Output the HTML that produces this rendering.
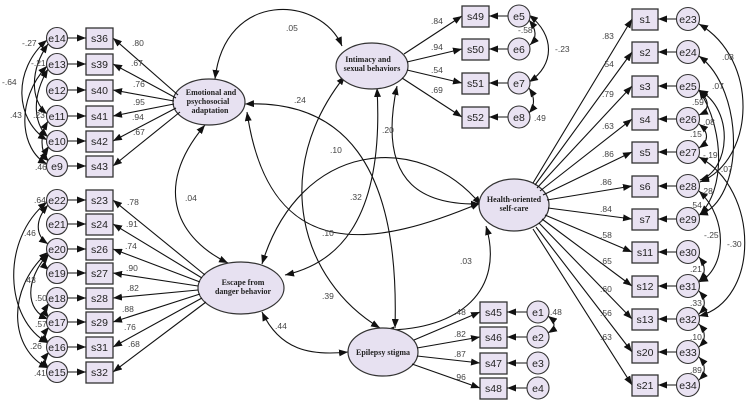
<!DOCTYPE html>
<html><head><meta charset="utf-8"><style>
html,body{margin:0;padding:0;background:#fff}
svg{display:block}
.n{font-family:"Liberation Sans",sans-serif;font-size:8.5px;fill:#444}
.b{font-family:"Liberation Sans",sans-serif;font-size:10.5px;fill:#222;text-anchor:middle}
.l{font-family:"Liberation Serif",serif;font-size:8px;font-weight:bold;fill:#222;text-anchor:middle}
rect{fill:#e9e2f2;stroke:#333;stroke-width:1.3}
circle{fill:#e9e2f2;stroke:#333;stroke-width:1.1}
ellipse{fill:#e7e1f1;stroke:#333;stroke-width:1.2}
.a{stroke:#111;stroke-width:1.1;fill:none;marker-end:url(#m)}
.c{stroke:#111;stroke-width:1.1;fill:none;marker-end:url(#m);marker-start:url(#m)}
</style></head><body>
<svg width="749" height="406" viewBox="0 0 749 406" xmlns="http://www.w3.org/2000/svg">
<defs><marker id="m" markerUnits="userSpaceOnUse" markerWidth="9" markerHeight="7" refX="9" refY="3.5" orient="auto-start-reverse"><path d="M0,0 L9,3.5 L0,7 z" fill="#111"/></marker></defs>

<!-- latent covariances -->
<path class="c" d="M215,79 C225,-10 320,-5 342,46"/>
<path class="c" d="M245,104 C340,100 400,160 395,328"/>
<path class="c" d="M247,112 C270,270 380,245 480,203"/>
<path class="c" d="M262,264 C300,140 420,130 481,205"/>
<path class="c" d="M377,88 C385,230 330,265 285,275"/>
<path class="c" d="M345,76 C270,170 300,280 380,328"/>
<path class="c" d="M397,86 C375,190 430,205 480,204"/>
<path class="c" d="M486,226 C505,290 460,330 385,330"/>
<path class="c" d="M262,312 C280,350 310,356 348,352"/>
<path class="c" d="M205,125 C150,190 180,240 228,263"/>
<text class="n" x="286" y="31">.05</text>
<text class="n" x="294" y="103">.24</text>
<text class="n" x="382" y="133">.20</text>
<text class="n" x="330" y="153">.10</text>
<text class="n" x="350" y="200">.32</text>
<text class="n" x="322" y="236">.10</text>
<text class="n" x="322" y="299">.39</text>
<text class="n" x="460" y="264">.03</text>
<text class="n" x="275" y="329">.44</text>
<text class="n" x="185" y="201">.04</text>

<!-- latent variables -->
<ellipse cx="209" cy="102" rx="36" ry="23"/>
<text class="l" x="211" y="95">Emotional and</text><text class="l" x="208" y="104">psychosocial</text><text class="l" x="210" y="113">adaptation</text>
<ellipse cx="241" cy="288" rx="43" ry="26"/>
<text class="l" x="243" y="285">Escape from</text><text class="l" x="243" y="294">danger behavior</text>
<ellipse cx="372" cy="66" rx="36" ry="23"/>
<text class="l" x="368" y="62">Intimacy and</text><text class="l" x="372" y="71">sexual behaviors</text>
<ellipse cx="514" cy="205" rx="35" ry="26"/>
<text class="l" x="514" y="202">Health-oriented</text><text class="l" x="514" y="211">self-care</text>
<ellipse cx="383" cy="352" rx="35" ry="24"/>
<text class="l" x="383" y="355">Epilepsy stigma</text>

<!-- top-left block -->
<g>
<path class="a" d="M178,95 L113,38"/><path class="a" d="M176,98 L113,64"/><path class="a" d="M174,101 L113,90"/>
<path class="a" d="M174,104 L113,116"/><path class="a" d="M176,108 L113,141"/><path class="a" d="M180,112 L113,166"/>
<text class="n" x="132" y="46">.80</text><text class="n" x="131" y="66">.67</text><text class="n" x="133" y="87">.76</text>
<text class="n" x="133" y="105">.95</text><text class="n" x="132" y="120">.94</text><text class="n" x="133" y="135">.67</text>
<rect x="86" y="28" width="27" height="21"/><text class="b" x="99.5" y="42">s36</text>
<rect x="86" y="54" width="27" height="21"/><text class="b" x="99.5" y="68">s39</text>
<rect x="86" y="80" width="27" height="21"/><text class="b" x="99.5" y="94">s40</text>
<rect x="86" y="106" width="27" height="21"/><text class="b" x="99.5" y="120">s41</text>
<rect x="86" y="131" width="27" height="21"/><text class="b" x="99.5" y="145">s42</text>
<rect x="86" y="156" width="27" height="21"/><text class="b" x="99.5" y="170">s43</text>
<path class="a" d="M68,38 L86,38"/><path class="a" d="M68,64 L86,64"/><path class="a" d="M68,90 L86,90"/>
<path class="a" d="M68,116 L86,116"/><path class="a" d="M68,141 L86,141"/><path class="a" d="M68,166 L86,166"/>
<path class="c" d="M47,40 C12,70 15,120 47,140"/>
<path class="c" d="M48,44 C30,70 30,100 47,114"/>
<path class="c" d="M48,69 C30,100 35,125 48,137"/>
<path class="c" d="M47,66 C15,100 20,150 47,164"/>
<path class="c" d="M48,121 C40,135 40,150 48,161"/>
<path class="c" d="M49,146 C45,152 45,158 49,161"/>
<text class="n" x="22" y="46">-.27</text><text class="n" x="31" y="66">-.21</text><text class="n" x="2" y="85">-.64</text>
<text class="n" x="10" y="118">.43</text><text class="n" x="33" y="118">.23</text><text class="n" x="35" y="170">.46</text>
<circle cx="57" cy="38" r="10.5"/><text class="b" x="57" y="42">e14</text>
<circle cx="57" cy="64" r="10.5"/><text class="b" x="57" y="68">e13</text>
<circle cx="57" cy="90" r="10.5"/><text class="b" x="57" y="94">e12</text>
<circle cx="57" cy="116" r="10.5"/><text class="b" x="57" y="120">e11</text>
<circle cx="57" cy="141" r="10.5"/><text class="b" x="57" y="145">e10</text>
<circle cx="57" cy="166" r="10.5"/><text class="b" x="57" y="170">e9</text>
</g>

<!-- bottom-left block -->
<g>
<path class="a" d="M205,275 L113,200"/><path class="a" d="M202,278 L113,224"/><path class="a" d="M200,282 L113,249"/>
<path class="a" d="M198,286 L113,273"/><path class="a" d="M198,290 L113,298"/><path class="a" d="M200,294 L113,322"/>
<path class="a" d="M202,298 L113,347"/><path class="a" d="M206,302 L113,372"/>
<text class="n" x="127" y="205">.78</text><text class="n" x="126" y="227">.91</text><text class="n" x="125" y="249">.74</text>
<text class="n" x="126" y="271">.90</text><text class="n" x="127" y="291">.82</text><text class="n" x="122" y="312">.88</text>
<text class="n" x="124" y="330">.76</text><text class="n" x="128" y="347">.68</text>
<rect x="86" y="190" width="27" height="21"/><text class="b" x="99.5" y="204">s23</text>
<rect x="86" y="214" width="27" height="21"/><text class="b" x="99.5" y="228">s24</text>
<rect x="86" y="239" width="27" height="21"/><text class="b" x="99.5" y="253">s26</text>
<rect x="86" y="263" width="27" height="21"/><text class="b" x="99.5" y="277">s27</text>
<rect x="86" y="288" width="27" height="21"/><text class="b" x="99.5" y="302">s28</text>
<rect x="86" y="312" width="27" height="21"/><text class="b" x="99.5" y="326">s29</text>
<rect x="86" y="337" width="27" height="21"/><text class="b" x="99.5" y="351">s31</text>
<rect x="86" y="362" width="27" height="21"/><text class="b" x="99.5" y="376">s32</text>
<path class="a" d="M68,200 L86,200"/><path class="a" d="M68,224 L86,224"/><path class="a" d="M68,249 L86,249"/>
<path class="a" d="M68,273 L86,273"/><path class="a" d="M68,298 L86,298"/><path class="a" d="M68,322 L86,322"/>
<path class="a" d="M68,347 L86,347"/><path class="a" d="M68,372 L86,372"/>
<path class="c" d="M47,202 C0,240 5,320 48,343"/>
<path class="c" d="M48,205 C35,220 35,235 48,244"/>
<path class="c" d="M48,254 C25,280 25,310 48,319"/>
<path class="c" d="M48,252 C5,290 10,350 48,368"/>
<path class="c" d="M49,254 C44,260 44,266 49,270"/>
<path class="c" d="M49,303 C45,309 45,313 49,318"/>
<path class="c" d="M49,327 C44,333 44,339 49,343"/>
<path class="c" d="M49,352 C44,358 44,364 49,368"/>
<text class="n" x="34" y="203">.64</text><text class="n" x="24" y="236">.46</text><text class="n" x="24" y="283">.43</text>
<text class="n" x="35" y="301">.50</text><text class="n" x="35" y="327">.57</text><text class="n" x="30" y="349">.26</text>
<text class="n" x="34" y="376">.41</text>
<circle cx="57" cy="200" r="10.5"/><text class="b" x="57" y="204">e22</text>
<circle cx="57" cy="224" r="10.5"/><text class="b" x="57" y="228">e21</text>
<circle cx="57" cy="249" r="10.5"/><text class="b" x="57" y="253">e20</text>
<circle cx="57" cy="273" r="10.5"/><text class="b" x="57" y="277">e19</text>
<circle cx="57" cy="298" r="10.5"/><text class="b" x="57" y="302">e18</text>
<circle cx="57" cy="322" r="10.5"/><text class="b" x="57" y="326">e17</text>
<circle cx="57" cy="347" r="10.5"/><text class="b" x="57" y="351">e16</text>
<circle cx="57" cy="372" r="10.5"/><text class="b" x="57" y="376">e15</text>
</g>

<!-- intimacy block -->
<g>
<path class="a" d="M404,54 L462,16"/><path class="a" d="M407,62 L462,49"/><path class="a" d="M407,70 L462,83"/><path class="a" d="M402,78 L462,117"/>
<text class="n" x="431" y="24">.84</text><text class="n" x="431" y="50">.94</text><text class="n" x="431" y="73">.54</text><text class="n" x="431" y="93">.69</text>
<rect x="462" y="6" width="27" height="21"/><text class="b" x="475.5" y="20">s49</text>
<rect x="462" y="39" width="27" height="21"/><text class="b" x="475.5" y="53">s50</text>
<rect x="462" y="73" width="27" height="21"/><text class="b" x="475.5" y="87">s51</text>
<rect x="462" y="107" width="27" height="21"/><text class="b" x="475.5" y="121">s52</text>
<path class="a" d="M508,16 L489,16"/><path class="a" d="M508,49 L489,49"/><path class="a" d="M508,83 L489,83"/><path class="a" d="M508,117 L489,117"/>
<path class="c" d="M529,20 C537,30 537,38 530,45"/>
<path class="c" d="M529,15 C555,35 555,65 529,82"/>
<path class="c" d="M529,88 C535,97 535,106 529,113"/>
<text class="n" x="518" y="33">-.58</text><text class="n" x="555" y="52">-.23</text><text class="n" x="534" y="121">.49</text>
<circle cx="519" cy="16" r="11"/><text class="b" x="519" y="20">e5</text>
<circle cx="519" cy="49" r="11"/><text class="b" x="519" y="53">e6</text>
<circle cx="519" cy="83" r="11"/><text class="b" x="519" y="87">e7</text>
<circle cx="519" cy="117" r="11"/><text class="b" x="519" y="121">e8</text>
</g>

<!-- epilepsy block -->
<g>
<path class="a" d="M414,340 L480,312"/><path class="a" d="M417,348 L480,337"/><path class="a" d="M417,356 L480,363"/><path class="a" d="M412,364 L480,388"/>
<text class="n" x="454" y="315">.48</text><text class="n" x="454" y="337">.82</text><text class="n" x="454" y="357">.87</text><text class="n" x="454" y="380">.96</text>
<rect x="480" y="302" width="27" height="21"/><text class="b" x="493.5" y="316">s45</text>
<rect x="480" y="327" width="27" height="21"/><text class="b" x="493.5" y="341">s46</text>
<rect x="480" y="353" width="27" height="21"/><text class="b" x="493.5" y="367">s47</text>
<rect x="480" y="378" width="27" height="21"/><text class="b" x="493.5" y="392">s48</text>
<path class="a" d="M527,312 L507,312"/><path class="a" d="M527,337 L507,337"/><path class="a" d="M527,363 L507,363"/><path class="a" d="M527,388 L507,388"/>
<path class="c" d="M548,316 C556,322 556,328 548,333"/>
<text class="n" x="550" y="315">.48</text>
<circle cx="538" cy="312" r="11"/><text class="b" x="538" y="316">e1</text>
<circle cx="538" cy="337" r="11"/><text class="b" x="538" y="341">e2</text>
<circle cx="538" cy="363" r="11"/><text class="b" x="538" y="367">e3</text>
<circle cx="538" cy="388" r="11"/><text class="b" x="538" y="392">e4</text>
</g>

<!-- health block -->
<g>
<path class="a" d="M533,183 L632,19"/><path class="a" d="M535,185 L632,52"/><path class="a" d="M537,188 L632,86"/>
<path class="a" d="M540,191 L632,119"/><path class="a" d="M543,195 L632,152"/><path class="a" d="M547,200 L632,186"/>
<path class="a" d="M548,208 L632,219"/><path class="a" d="M545,215 L632,252"/><path class="a" d="M542,219 L632,286"/>
<path class="a" d="M539,223 L632,319"/><path class="a" d="M536,227 L632,352"/><path class="a" d="M533,229 L632,385"/>
<text class="n" x="602" y="39">.83</text><text class="n" x="602" y="67">.54</text><text class="n" x="602" y="97">.79</text>
<text class="n" x="602" y="129">.63</text><text class="n" x="602" y="157">.86</text><text class="n" x="600" y="185">.86</text>
<text class="n" x="600" y="212">.84</text><text class="n" x="600" y="238">.58</text><text class="n" x="600" y="264">.65</text>
<text class="n" x="600" y="292">.60</text><text class="n" x="600" y="316">.56</text><text class="n" x="600" y="340">.63</text>
<rect x="632" y="9" width="26" height="21"/><text class="b" x="645" y="23">s1</text>
<rect x="632" y="42" width="26" height="21"/><text class="b" x="645" y="56">s2</text>
<rect x="632" y="76" width="26" height="21"/><text class="b" x="645" y="90">s3</text>
<rect x="632" y="109" width="26" height="21"/><text class="b" x="645" y="123">s4</text>
<rect x="632" y="142" width="26" height="21"/><text class="b" x="645" y="156">s5</text>
<rect x="632" y="176" width="26" height="21"/><text class="b" x="645" y="190">s6</text>
<rect x="632" y="209" width="26" height="21"/><text class="b" x="645" y="223">s7</text>
<rect x="632" y="242" width="26" height="21"/><text class="b" x="645" y="256">s11</text>
<rect x="632" y="276" width="26" height="21"/><text class="b" x="645" y="290">s12</text>
<rect x="632" y="309" width="26" height="21"/><text class="b" x="645" y="323">s13</text>
<rect x="632" y="342" width="26" height="21"/><text class="b" x="645" y="356">s20</text>
<rect x="632" y="375" width="26" height="21"/><text class="b" x="645" y="389">s21</text>
<path class="a" d="M676,19 L658,19"/><path class="a" d="M676,52 L658,52"/><path class="a" d="M676,86 L658,86"/>
<path class="a" d="M676,119 L658,119"/><path class="a" d="M676,152 L658,152"/><path class="a" d="M676,186 L658,186"/>
<path class="a" d="M676,219 L658,219"/><path class="a" d="M676,252 L658,252"/><path class="a" d="M676,286 L658,286"/>
<path class="a" d="M676,319 L658,319"/><path class="a" d="M676,352 L658,352"/><path class="a" d="M676,385 L658,385"/>
<path class="c" d="M699,24 C760,60 755,160 700,182"/>
<path class="c" d="M699,56 C745,90 745,200 699,215"/>
<path class="c" d="M699,90 C735,110 730,170 700,180"/>
<path class="c" d="M699,91 C710,100 710,110 699,115"/>
<path class="c" d="M699,124 C709,132 709,141 699,148"/>
<path class="c" d="M699,90 C725,130 725,190 700,214"/>
<path class="c" d="M699,157 C760,190 760,300 699,316"/>
<path class="c" d="M699,191 C730,220 725,270 699,282"/>
<path class="c" d="M699,257 C706,266 706,274 699,281"/>
<path class="c" d="M699,291 C706,299 706,307 699,314"/>
<path class="c" d="M699,324 C706,332 706,340 699,347"/>
<path class="c" d="M699,357 C706,365 706,373 699,380"/>
<text class="n" x="722" y="60">.08</text><text class="n" x="712" y="89">.07</text><text class="n" x="692" y="105">.59</text>
<text class="n" x="703" y="125">.08</text><text class="n" x="690" y="137">.15</text><text class="n" x="703" y="158">-.19</text>
<text class="n" x="718" y="172">-.07</text><text class="n" x="701" y="194">.28</text><text class="n" x="690" y="208">.54</text>
<text class="n" x="704" y="238">-.25</text><text class="n" x="727" y="247">-.30</text><text class="n" x="690" y="272">.21</text>
<text class="n" x="690" y="306">.33</text><text class="n" x="690" y="340">.10</text><text class="n" x="690" y="373">.89</text>
<circle cx="688" cy="19" r="11.5"/><text class="b" x="688" y="23">e23</text>
<circle cx="688" cy="52" r="11.5"/><text class="b" x="688" y="56">e24</text>
<circle cx="688" cy="86" r="11.5"/><text class="b" x="688" y="90">e25</text>
<circle cx="688" cy="119" r="11.5"/><text class="b" x="688" y="123">e26</text>
<circle cx="688" cy="152" r="11.5"/><text class="b" x="688" y="156">e27</text>
<circle cx="688" cy="186" r="11.5"/><text class="b" x="688" y="190">e28</text>
<circle cx="688" cy="219" r="11.5"/><text class="b" x="688" y="223">e29</text>
<circle cx="688" cy="252" r="11.5"/><text class="b" x="688" y="256">e30</text>
<circle cx="688" cy="286" r="11.5"/><text class="b" x="688" y="290">e31</text>
<circle cx="688" cy="319" r="11.5"/><text class="b" x="688" y="323">e32</text>
<circle cx="688" cy="352" r="11.5"/><text class="b" x="688" y="356">e33</text>
<circle cx="688" cy="385" r="11.5"/><text class="b" x="688" y="389">e34</text>
</g>
</svg>
</body></html>
